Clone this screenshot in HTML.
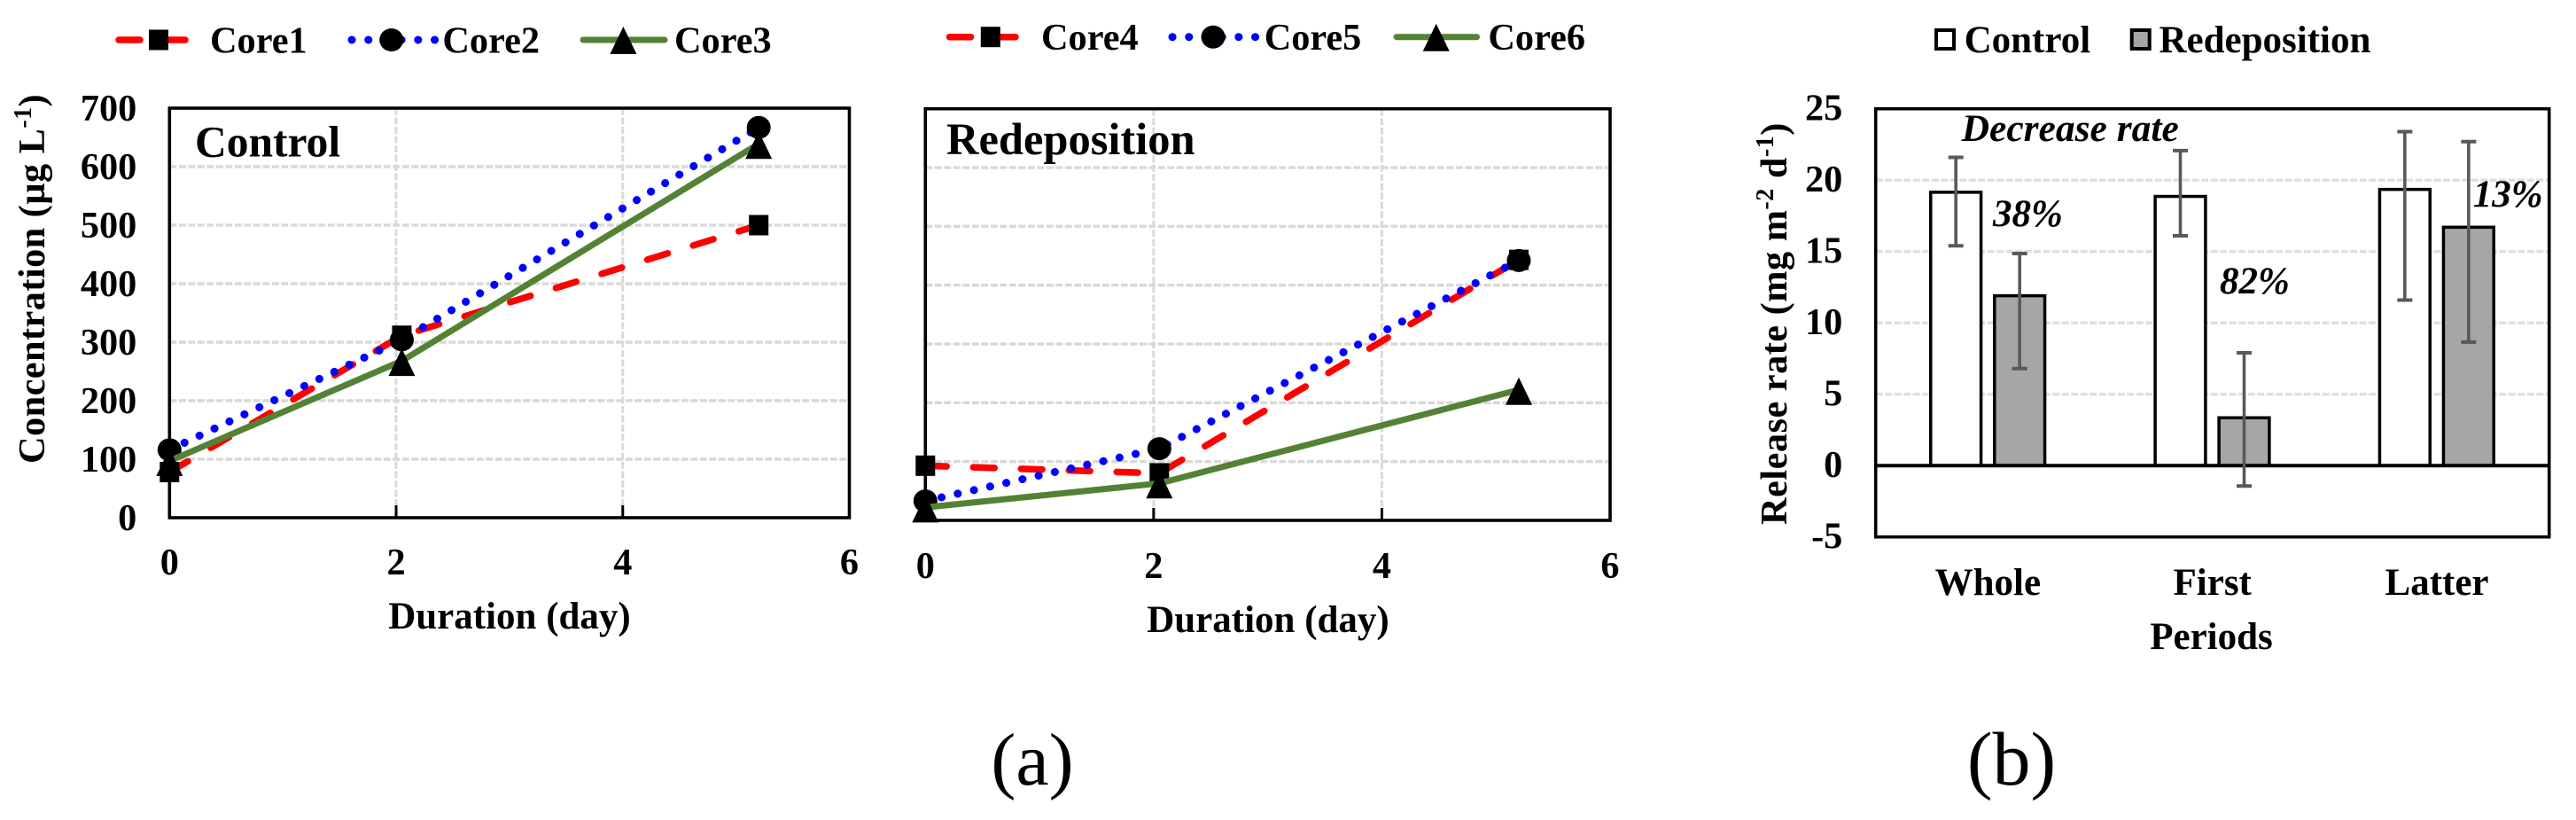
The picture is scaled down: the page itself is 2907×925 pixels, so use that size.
<!DOCTYPE html>
<html lang="en">
<head>
<meta charset="utf-8">
<title>Concentration and release rate charts</title>
<style>
html,body{margin:0;padding:0;background:#fff;}
svg{display:block;}
text{font-family:"Liberation Serif","Times New Roman",serif;font-weight:bold;font-size:42.3px;fill:#000;}
</style>
</head>
<body>
<svg id="figure" xmlns="http://www.w3.org/2000/svg" width="2907" height="925" viewBox="0 0 2907 925">
  <rect x="0" y="0" width="2907" height="925" fill="#fff"/>
  <text x="1165" y="885" text-anchor="middle" style="font-weight:normal;font-size:84px">(a)</text>
  <text x="2270" y="885" text-anchor="middle" style="font-weight:normal;font-size:86px">(b)</text>
  <text x="575" y="709" text-anchor="middle" style="font-size:43px">Duration (day)</text>
  <text x="1431" y="713" text-anchor="middle" style="font-size:43px">Duration (day)</text>
  <text transform="translate(50,523) rotate(-90)" style="letter-spacing:0.45px">Concentration (µg L<tspan dy="-15" style="font-size:28px">-1</tspan><tspan dy="15">)</tspan></text>
  <text transform="translate(2016,592) rotate(-90)" style="letter-spacing:0.5px">Release rate (mg m<tspan dy="-15" style="font-size:28px">-2</tspan><tspan dy="15"> d</tspan><tspan dy="-15" style="font-size:28px">-1</tspan><tspan dy="15">)</tspan></text>
  <text x="2495.5" y="732" text-anchor="middle" style="font-size:43px">Periods</text>
  <g id="chart-layer"></g>
  <text x="220" y="176.7" style="font-size:49.5px">Control</text>
  <text x="1068" y="174" style="font-size:50.5px">Redeposition</text>
  <text x="2213.6" y="159" style="font-style:italic;font-size:43.5px">Decrease rate</text>
  <text x="2249" y="255" style="font-style:italic;font-size:43px">38%</text>
  <text x="2505" y="331" style="font-style:italic;font-size:43px">82%</text>
  <text x="2790.7" y="233" style="font-style:italic;font-size:43px">13%</text>
</svg>
<script>
const days = [0, 2.05, 5.2];
const core1 = [78, 311, 500];
const core2 = [116, 304, 667];
const core3 = [97, 268, 639];
const core4 = [93, 80, 443];
const core5 = [33, 122, 442];
const core6 = [22, 63, 222];
const xTickLabels = [0, 2, 4, 6];
const concentrationTicks = [0, 100, 200, 300, 400, 500, 600, 700];
const periodLabels = ['Whole', 'First', 'Latter'];
const controlRate = [19.15, 18.86, 19.35];
const controlHigh = [21.6, 22.07, 23.4];
const controlLow = [15.4, 16.1, 11.6];
const redepositionRate = [11.9, 3.35, 16.7];
const redepositionHigh = [14.86, 7.9, 22.7];
const redepositionLow = [6.8, -1.43, 8.65];
const rateTicks = [-5, 0, 5, 10, 15, 20, 25];

const NS = 'http://www.w3.org/2000/svg';
const layer = document.getElementById('chart-layer');
const RED = '#ff0000', BLUE = '#0000ff', GREEN = '#548235';

function mk(parent, tag, attrs, txt) {
  const e = document.createElementNS(NS, tag);
  for (const k in attrs) e.setAttribute(k, attrs[k]);
  if (txt !== undefined) e.textContent = txt;
  parent.appendChild(e);
  return e;
}
function gridLine(parent, x1, y1, x2, y2, dash, color, width) {
  const el = mk(parent, 'line', {x1, y1, x2, y2, stroke: color, 'stroke-width': width, 'stroke-dasharray': dash});
  
  
}
function marker(parent, kind, x, y) {
  let el;
  if (kind === 'square') el = mk(parent, 'rect', {x: x - 11, y: y - 11.5, width: 22, height: 23, fill: '#000'});
  if (kind === 'circle') el = mk(parent, 'ellipse', {cx: x, cy: y, rx: 13.5, ry: 13, fill: '#000'});
  if (kind === 'triangle') el = mk(parent, 'polygon', {points: (x) + ',' + (y - 14) + ' ' + (x - 15) + ',' + (y + 17) + ' ' + (x + 15) + ',' + (y + 17), fill: '#000'});
  
  
}
function seriesStyle(kind) {
  if (kind === 'square') return {stroke: RED, 'stroke-width': 7.5, 'stroke-linecap': 'round', 'stroke-dasharray': '24 30'};
  if (kind === 'circle') return {stroke: BLUE, 'stroke-width': 9, 'stroke-linecap': 'round', 'stroke-dasharray': '0.1 18.6'};
  return {stroke: GREEN, 'stroke-width': 7, 'stroke-linejoin': 'round', 'stroke-linecap': 'round'};
}

function lineChart(name, box, seriesList, legendItems, legendY, legendBase, tickBase, showY) {
  const g = mk(layer, 'g', {});
  
  
  const xs = v => box.l + (v - 0) / 6 * (box.r - box.l);
  const ys = v => box.b - v / 700 * (box.b - box.t);
  concentrationTicks.forEach(t => {
    if (t > 0 && t < 700) gridLine(g, box.l, ys(t), box.r, ys(t), '8 2.5', '#d9d9d9', 3.4);
    if (showY) {
      const lab = mk(g, 'text', {x: box.l - 37, y: ys(t) + 14, 'text-anchor': 'end'}, String(t));
      
      
    }
  });
  xTickLabels.forEach(t => {
    if (t > 0 && t < 6) {
      gridLine(g, xs(t), box.t, xs(t), box.b, '8 2.5', '#d9d9d9', 3);
      const tk = mk(g, 'line', {x1: xs(t), x2: xs(t), y1: box.b - 14, y2: box.b, stroke: '#000', 'stroke-width': 3});
      
      
    }
    const lab = mk(g, 'text', {x: xs(t), y: tickBase, 'text-anchor': 'middle'}, String(t));
    
    
  });
  const frame = mk(g, 'rect', {x: box.l, y: box.t, width: box.r - box.l, height: box.b - box.t, fill: 'none', stroke: '#000', 'stroke-width': 3.6});
  
  

  seriesList.forEach(s => {
    const pts = days.map((d, i) => xs(d) + ',' + ys(s.values[i])).join(' ');
    const attrs = Object.assign({points: pts, fill: 'none'}, seriesStyle(s.kind));
    const pl = mk(g, 'polyline', attrs);
    
    
    days.forEach((d, i) => marker(g, s.kind, xs(d), ys(s.values[i])));
  });

  legendItems.forEach(it => {
    const lg = mk(g, 'g', {});
    
    
    const attrs = Object.assign({x1: it.x1, x2: it.x2, y1: legendY, y2: legendY}, seriesStyle(it.kind));
    const ln = mk(lg, 'line', attrs);
    
    
    marker(lg, it.kind, it.mx, it.kind === 'triangle' ? legendY - 1 : legendY);
    const tx = mk(lg, 'text', {x: it.tx, y: legendBase}, it.label);
    
    
  });
}

lineChart('control-line-chart', {l: 191.3, r: 958.5, t: 122, b: 584},
  [{name: 'core1', kind: 'square', values: core1}, {name: 'core2', kind: 'circle', values: core2}, {name: 'core3', kind: 'triangle', values: core3}],
  [{kind: 'square', x1: 134, x2: 209, mx: 179, tx: 237, label: 'Core1'},
   {kind: 'circle', x1: 397, x2: 491, mx: 441.7, tx: 499.4, label: 'Core2'},
   {kind: 'triangle', x1: 658, x2: 750, mx: 703.4, tx: 761, label: 'Core3'}],
  45, 59.5, 648, true);

lineChart('redeposition-line-chart', {l: 1044.3, r: 1817, t: 122.7, b: 587},
  [{name: 'core4', kind: 'square', values: core4}, {name: 'core5', kind: 'circle', values: core5}, {name: 'core6', kind: 'triangle', values: core6}],
  [{kind: 'square', x1: 1071.5, x2: 1146, mx: 1117.8, tx: 1175, label: 'Core4'},
   {kind: 'circle', x1: 1323, x2: 1417, mx: 1369, tx: 1426.7, label: 'Core5'},
   {kind: 'triangle', x1: 1576, x2: 1666.5, mx: 1620.7, tx: 1679.4, label: 'Core6'}],
  41.7, 56, 652, false);

(function barChart() {
  const g = mk(layer, 'g', {});
  
  
  const box = {l: 2116.7, r: 2876.7, t: 122.7, b: 605.7};
  const ys = v => box.b - (v + 5) / 30 * (box.b - box.t);
  const band = (box.r - box.l) / periodLabels.length;
  const cx = i => box.l + band * (i + 0.5);
  rateTicks.forEach(t => {
    if (t > 0 && t < 25) gridLine(g, box.l, ys(t), box.r, ys(t), '8 2.5', '#dedede', 3.4);
    const lab = mk(g, 'text', {x: 2079.3, y: ys(t) + 13, 'text-anchor': 'end'}, String(t));
    
    
  });
  function bars(values, off, fill, seriesName) {
    values.forEach((v, i) => {
      const top = ys(v), base = ys(0);
      const el = mk(g, 'rect', {x: cx(i) + off - 28.4, y: top, width: 56.8, height: base - top, fill, stroke: '#000', 'stroke-width': 3.5});
      
      
    });
  }
  bars(controlRate, -36.2, '#fff', 'control');
  bars(redepositionRate, 35.8, '#a6a6a6', 'redeposition');
  const frame = mk(g, 'rect', {x: box.l, y: box.t, width: box.r - box.l, height: box.b - box.t, fill: 'none', stroke: '#000', 'stroke-width': 3.6});
  
  
  const zero = mk(g, 'line', {x1: box.l, x2: box.r, y1: ys(0), y2: ys(0), stroke: '#000', 'stroke-width': 4});
  
  
  function errs(hi, lo, off) {
    hi.forEach((h, i) => {
      const x = cx(i) + off;
      const parts = [[x, ys(h), x, ys(lo[i]), 3.6], [x - 8.5, ys(h), x + 8.5, ys(h), 4], [x - 8.5, ys(lo[i]), x + 8.5, ys(lo[i]), 4]];
      parts.forEach(p => {
        const el = mk(g, 'line', {x1: p[0], y1: p[1], x2: p[2], y2: p[3], stroke: '#595959', 'stroke-width': p[4]});
        
        
      });
    });
  }
  errs(controlHigh, controlLow, -36.2);
  errs(redepositionHigh, redepositionLow, 35.8);
  periodLabels.forEach((p, i) => {
    const lab = mk(g, 'text', {x: cx(i), y: 671, 'text-anchor': 'middle', style: 'font-size:43px'}, p);
    
    
  });
  const legendEntries = [{x: 2185, fill: '#fff', tx: 2216.6, label: 'Control'}, {x: 2405.7, fill: '#a6a6a6', tx: 2436.5, label: 'Redeposition'}];
  legendEntries.forEach(it => {
    const lg = mk(g, 'g', {});
    
    
    const sw = mk(lg, 'rect', {x: it.x, y: 34, width: 20, height: 21, fill: it.fill, stroke: '#000', 'stroke-width': 4});
    
    
    const tx = mk(lg, 'text', {x: it.tx, y: 59, style: 'font-size:43px'}, it.label);
    
    
  });
})();
</script>
</body>
</html>
